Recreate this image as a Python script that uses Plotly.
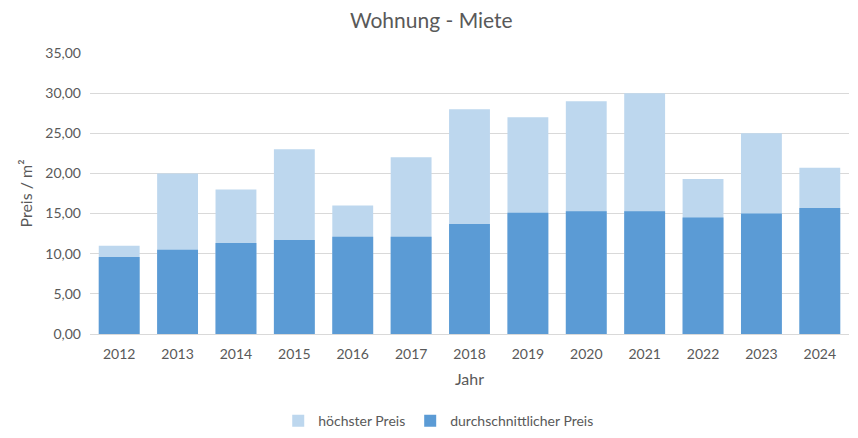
import plotly.graph_objects as go

years = ["2012", "2013", "2014", "2015", "2016", "2017", "2018", "2019", "2020", "2021", "2022", "2023", "2024"]
hoechster = [11.0, 20.0, 18.0, 23.0, 16.0, 22.0, 28.0, 27.0, 29.0, 30.0, 19.3, 25.0, 20.7]
durchschnitt = [9.6, 10.5, 11.35, 11.7, 12.1, 12.1, 13.7, 15.1, 15.3, 15.3, 14.5, 15.0, 15.7]

font_fam = "Lato, Carlito, Calibri, sans-serif"
grey = "#595959"

fig = go.Figure()
fig.add_trace(go.Bar(x=years, y=hoechster, name="höchster Preis", marker_color="#BDD7EE",
                     marker_line_width=0))
fig.add_trace(go.Bar(x=years, y=durchschnitt, name="durchschnittlicher Preis", marker_color="#5B9BD5",
                     marker_line_width=0))

# page body has an 8px margin, so the figure is sized to fit the 858x438 window
fig.update_layout(
    width=850, height=430,
    barmode="overlay", bargap=0.3,
    separators=", ",
    paper_bgcolor="white", plot_bgcolor="white",
    margin=dict(l=82, r=9, t=45, b=104, autoexpand=False),
    font=dict(family=font_fam, size=14, color=grey),
    title=dict(text="Wohnung - Miete", x=0.498, xanchor="center", xref="paper" if False else "container",
               y=0.97, yanchor="middle", yref="container",
               font=dict(size=21, color=grey, family=font_fam)),
    legend=dict(orientation="h", x=0.248, xanchor="left", y=-0.31, yanchor="middle",
                font=dict(size=14, color=grey), traceorder="normal"),
    xaxis=dict(title=dict(text="Jahr", font=dict(size=16, color=grey), standoff=13),
               automargin=False,
               showgrid=False, showline=True, linecolor="#D9D9D9", linewidth=1,
               ticks="", ticklabelstandoff=7, tickfont=dict(size=14, color=grey)),
    yaxis=dict(title=dict(text="Preis / m²", font=dict(size=16, color=grey), standoff=8),
               automargin=False,
               range=[0, 35], dtick=5, tickformat=".2f",
               showgrid=True, gridcolor="#D9D9D9", gridwidth=1,
               zeroline=False, showline=False, ticks="", ticklabelstandoff=8,
               tickfont=dict(size=14, color=grey)),
)

fig.write_html("out.html")
